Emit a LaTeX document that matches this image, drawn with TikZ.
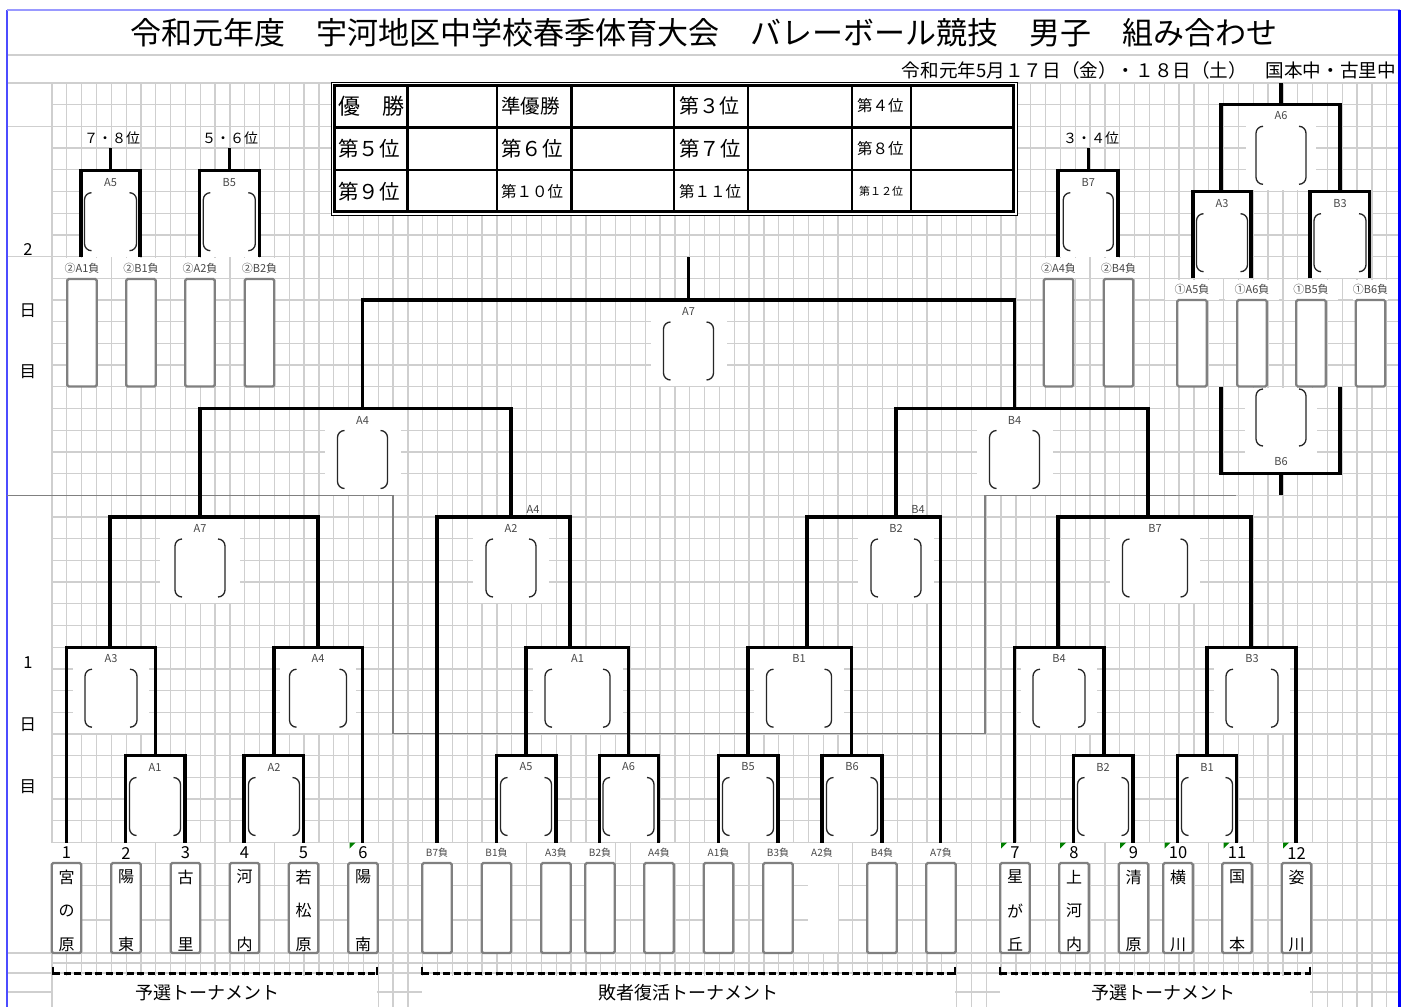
\documentclass[tikz,border=0pt]{standalone}
\usepackage{fontspec}
\setmainfont{Noto Sans CJK JP}
\newcommand\fs[1]{\fontsize{#1}{#1}\selectfont}
% match unit: name, cx, ytop, label, boxwidth, whitewidth
\newcommand\matchu[6]{%
  \fill[white] ({#2-#6/2},{#3+1.5}) rectangle ({#2+#6/2},{#3+86});
  \node[lab] (#1) at (#2,{#3+11.5}) {#4};
  \draw[mbox] ({#2-#5/2+7},{#3+22}) -- ({#2-#5/2},{#3+22}) -- ({#2-#5/2},{#3+80}) -- ({#2-#5/2+7},{#3+80});
  \draw[mbox] ({#2+#5/2-7},{#3+22}) -- ({#2+#5/2},{#3+22}) -- ({#2+#5/2},{#3+80}) -- ({#2+#5/2-7},{#3+80});
}
% green comment marker
\newcommand\gtri[1]{\fill[green!50!black] (#1,842.5) -- ({#1+6},842.5) -- (#1,848.5) -- cycle;}
\begin{document}
\begin{tikzpicture}[x=1pt,y=-1pt,
  gridl/.style={draw=black!19,line width=1.3pt},
  br/.style={draw=black,line width=3.2pt,line join=miter},
  mbox/.style={draw=black!85,line width=1.3pt,rounded corners=7pt},
  lab/.style={text=black!72,font=\fs{11},inner sep=0.5pt},
  labw/.style={lab,fill=white,minimum width=54pt,minimum height=20pt,inner sep=0pt},
  labm/.style={lab,font=\fs{10},fill=white,minimum width=38pt,minimum height=20pt,inner sep=0pt},
  tbox/.style={draw=black!50,line width=2.2pt,fill=white,rounded corners=1.5pt,inner sep=0pt,minimum width=29.5pt},
  tname/.style={font=\fs{16},inner sep=0pt},
  numl/.style={font=\fs{16.5},fill=white,minimum width=40pt,minimum height=20pt,inner sep=0pt},
  cell/.style={anchor=west,inner sep=0pt},
  rank/.style={font=\fs{14},inner sep=0pt},
  dayl/.style={font=\fs{16.5},inner sep=0pt},
  sep/.style={draw=black!50,line width=1.6pt},
  dashl/.style={draw=black,line width=2.2pt,dash pattern=on 7pt off 3.5pt},
  endl/.style={draw=black,line width=2.2pt},
  captxt/.style={font=\fs{18},inner sep=0pt}
]
\useasboundingbox (0,0) rectangle (1410,1007);
\fill[white] (0,0) rectangle (1410,1007);
% ---------------- grid
\foreach \k in {0,...,90} \draw[gridl] ({52+14.83*\k},83) -- ({52+14.83*\k},1007);
\foreach \j in {0,...,35} \draw[gridl] (52,{83+21.7*\j}) -- (1398,{83+21.7*\j});
\foreach \yy in {863.5,885.2,920,953,963,973,992} \draw[gridl] (52,\yy) -- (1398,\yy);
\foreach \yy in {83,126.4,256.6,953,973,992} \draw[gridl] (7,\yy) -- (52,\yy);
\draw[gridl] (7,55) -- (1398,55);
% ---------------- border
\draw[blue!70,line width=1.8pt] (7,10) -- (7,1007);
\draw[blue!40,line width=1.5pt] (7,10) -- (1399.5,10);
\draw[blue,line width=2.5pt] (1399.5,10) -- (1399.5,1007);
% ---------------- title
\node[font=\fs{31},inner sep=0pt] (title) at (703.5,33) {令和元年度　宇河地区中学校春季体育大会　バレーボール競技　男子　組み合わせ};
\node[font=\fs{18.6},anchor=east,inner sep=0pt] (date) at (1396,70) {令和元年5月１７日（金）・１８日（土）　国本中・古里中};
% ---------------- ranking table
\fill[white] (331,82) rectangle (1017,215);
\draw[line width=1pt] (331,82) rectangle (1017,215);
\draw[line width=2.8pt] (334.5,85.5) rectangle (1013.5,211.5);
\foreach \xx in {407.5,497,571.5,674,748,852,911} \draw[line width=2.4pt] (\xx,85.5) -- (\xx,211.5);
\foreach \yy in {127.5,170} \draw[line width=2.4pt] (334.5,\yy) -- (1013.5,\yy);
\node[cell,font=\fs{22}] (r1) at (338,106) {優　勝};
\node[cell,font=\fs{19.5}] (r2) at (501,106) {準優勝};
\node[cell,font=\fs{20}] (r3) at (679,106) {第３位};
\node[cell,font=\fs{15.5}] (r4) at (857,106) {第４位};
\node[cell,font=\fs{20.5}] (r5) at (338,149) {第５位};
\node[cell,font=\fs{20.5}] (r6) at (501,149) {第６位};
\node[cell,font=\fs{20.5}] (r7) at (679,149) {第７位};
\node[cell,font=\fs{15.5}] (r8) at (857,149) {第８位};
\node[cell,font=\fs{20.5}] (r9) at (338,191.5) {第９位};
\node[cell,font=\fs{15.5}] (r10) at (501,191.5) {第１０位};
\node[cell,font=\fs{15.5}] (r11) at (679,191.5) {第１１位};
\node[cell,font=\fs{11}] (r12) at (859,191.5) {第１２位};
% ---------------- day labels
\node[dayl] (d2a) at (28,250) {2};
\node[dayl] (d2b) at (28,311) {日};
\node[dayl] (d2c) at (28,372) {目};
\node[dayl] (d1a) at (28,663) {1};
\node[dayl] (d1b) at (28,725) {日};
\node[dayl] (d1c) at (28,787) {目};
% ---------------- match units
\matchu{mA5t}{110.5}{170.7}{A5}{52}{57}
\matchu{mB5t}{229.3}{170.7}{B5}{52}{57}
\matchu{mB7t}{1088.3}{170.7}{B7}{50}{57}
\matchu{mA6t}{1281}{104.3}{A6}{50}{70}
\matchu{mA3t}{1222}{191.7}{A3}{51}{55}
\matchu{mB3t}{1340}{191.7}{B3}{52}{56}
\matchu{mA7f}{688.5}{300}{A7}{50}{76}
\matchu{mA4s}{362.5}{408.5}{A4}{50}{76}
\matchu{mB4s}{1014.5}{408.5}{B4}{50}{76}
\matchu{mA7l}{200}{517}{A7}{50}{80}
\matchu{mA3l}{111}{647.2}{A3}{52}{76}
\matchu{mA4l}{318}{647.2}{A4}{57}{76}
\matchu{mA1l}{155}{755.5}{A1}{51}{56}
\matchu{mA2l}{274}{755.5}{A2}{51}{56}
\matchu{mA2c}{511}{517}{A2}{50}{76}
\matchu{mB2c}{896}{517}{B2}{50}{76}
\matchu{mA1c}{577.5}{647.2}{A1}{65}{90}
\matchu{mB1c}{799}{647.2}{B1}{65}{90}
\matchu{mA5c}{526}{755.5}{A5}{51}{56}
\matchu{mA6c}{628.5}{755.5}{A6}{51}{56}
\matchu{mB5c}{748}{755.5}{B5}{51}{56}
\matchu{mB6c}{852}{755.5}{B6}{51}{56}
\matchu{mB7r}{1155}{517}{B7}{65}{90}
\matchu{mB4r}{1059}{647.2}{B4}{52}{76}
\matchu{mB3r}{1252}{647.2}{B3}{52}{76}
\matchu{mB2r}{1103}{755.5}{B2}{51}{56}
\matchu{mB1r}{1207}{755.5}{B1}{51}{56}
% inverted B6
\fill[white] (1245,388) rectangle (1317,472);
\draw[mbox] (1263,389) -- (1256,389) -- (1256,446) -- (1263,446);
\draw[mbox] (1299,389) -- (1306,389) -- (1306,446) -- (1299,446);
\node[lab] (mB6t) at (1281,462) {B6};
\node[lab] (xA4) at (533,509.5) {A4};
\node[lab] (xB4) at (918,509.5) {B4};
% ---------------- separator between day 2 and day 1
\draw[sep] (7,495.3) -- (393,495.3) -- (393,733.6) -- (985,733.6) -- (985,495.3) -- (1236,495.3);
% ---------------- brackets: day 2
\draw[br] (110.5,148) -- (110.5,170.7);
\draw[br] (81,257) -- (81,170.7) -- (140,170.7) -- (140,257);
\draw[br] (229.3,148) -- (229.3,170.7);
\draw[br] (199.3,257) -- (199.3,170.7) -- (259.3,170.7) -- (259.3,257);
\draw[br] (1088.3,148) -- (1088.3,170.7);
\draw[br] (1058,257) -- (1058,170.7) -- (1118,170.7) -- (1118,257);
\draw[br] (1281,83) -- (1281,104.3);
\draw[br] (1221,191.7) -- (1221,104.3) -- (1340,104.3) -- (1340,191.7);
\draw[br] (1193,278.3) -- (1193,191.7) -- (1251,191.7) -- (1251,278.3);
\draw[br] (1310,278.3) -- (1310,191.7) -- (1369.3,191.7) -- (1369.3,278.3);
\draw[br] (1221,386.8) -- (1221,473.6) -- (1340,473.6) -- (1340,386.8);
\draw[br] (1281,473.6) -- (1281,495.3);
% final and semis
\draw[br] (688.5,257) -- (688.5,300);
\draw[br] (362.5,408.5) -- (362.5,300) -- (1014.5,300) -- (1014.5,408.5);
\draw[br] (200,517) -- (200,408.5) -- (511,408.5) -- (511,517);
\draw[br] (896,517) -- (896,408.5) -- (1148,408.5) -- (1148,517);
% left preliminary
\draw[br] (110,647.2) -- (110,517) -- (318,517) -- (318,647.2);
\draw[br] (66.5,842.5) -- (66.5,647.2) -- (155.5,647.2) -- (155.5,755.5);
\draw[br] (125.5,842.5) -- (125.5,755.5) -- (185,755.5) -- (185,842.5);
\draw[br] (274,755.5) -- (274,647.2) -- (362.5,647.2) -- (362.5,842.5);
\draw[br] (244,842.5) -- (244,755.5) -- (303.5,755.5) -- (303.5,842.5);
% consolation
\draw[br] (437,842.5) -- (437,517) -- (570,517) -- (570,647.2);
\draw[br] (526,755.5) -- (526,647.2) -- (628.5,647.2) -- (628.5,755.5);
\draw[br] (496.5,842.5) -- (496.5,755.5) -- (556,755.5) -- (556,842.5);
\draw[br] (599.5,842.5) -- (599.5,755.5) -- (658.5,755.5) -- (658.5,842.5);
\draw[br] (807,647.2) -- (807,517) -- (940.5,517) -- (940.5,842.5);
\draw[br] (748,755.5) -- (748,647.2) -- (851.5,647.2) -- (851.5,755.5);
\draw[br] (718.5,842.5) -- (718.5,755.5) -- (778,755.5) -- (778,842.5);
\draw[br] (822,842.5) -- (822,755.5) -- (882,755.5) -- (882,842.5);
% right preliminary
\draw[br] (1058,647.2) -- (1058,517) -- (1251,517) -- (1251,647.2);
\draw[br] (1014.5,842.5) -- (1014.5,647.2) -- (1104,647.2) -- (1104,755.5);
\draw[br] (1073.5,842.5) -- (1073.5,755.5) -- (1133,755.5) -- (1133,842.5);
\draw[br] (1207,755.5) -- (1207,647.2) -- (1296,647.2) -- (1296,842.5);
\draw[br] (1177.5,842.5) -- (1177.5,755.5) -- (1236.5,755.5) -- (1236.5,842.5);
% ---------------- rank labels day 2
\node[rank] (p78) at (112,138) {７・８位};
\node[rank] (p56) at (230,138) {５・６位};
\node[rank] (p34) at (1091,138) {３・４位};
\node[labw] (l1) at (82,268) {②A1負};
\node[labw] (l2) at (141,268) {②B1負};
\node[labw] (l3) at (200,268) {②A2負};
\node[labw] (l4) at (259.5,268) {②B2負};
\node[labw] (l5) at (1058.5,268) {②A4負};
\node[labw] (l6) at (1118.5,268) {②B4負};
\node[labw] (l7) at (1192,289.5) {①A5負};
\node[labw] (l8) at (1252,289.5) {①A6負};
\node[labw] (l9) at (1311,289.5) {①B5負};
\node[labw,minimum width=30pt] (l10) at (1370.5,289.5) {①B6負};
\node[tbox,minimum height=107.5pt] (b1) at (82,332.7) {};
\node[tbox,minimum height=107.5pt] (b2) at (141,332.7) {};
\node[tbox,minimum height=107.5pt] (b3) at (200,332.7) {};
\node[tbox,minimum height=107.5pt] (b4) at (259.5,332.7) {};
\node[tbox,minimum height=107.5pt] (b5) at (1058.5,332.7) {};
\node[tbox,minimum height=107.5pt] (b6) at (1118.5,332.7) {};
\node[tbox,minimum height=86.5pt] (b7) at (1192,343.2) {};
\node[tbox,minimum height=86.5pt] (b8) at (1252,343.2) {};
\node[tbox,minimum height=86.5pt] (b9) at (1311,343.2) {};
\node[tbox,minimum height=86.5pt] (b10) at (1370.5,343.2) {};
% ---------------- team number row
\node[numl] (n1) at (66.5,853) {1};
\node[numl] (n2) at (126,853) {2};
\node[numl] (n3) at (185.5,853) {3};
\node[numl] (n4) at (244.5,853) {4};
\node[numl] (n5) at (303.5,853) {5};
\node[numl] (n6) at (363,853) {6};
\node[numl] (n7) at (1015,853) {7};
\node[numl] (n8) at (1074,853) {8};
\node[numl] (n9) at (1133.5,853) {9};
\node[numl] (n10) at (1178,853) {10};
\node[numl] (n11) at (1237,853) {11};
\node[numl] (n12) at (1296.5,853) {12};
\node[labm] (c1) at (437,853) {B7負};
\node[labm] (c2) at (496.5,853) {B1負};
\node[labm] (c3) at (556,853) {A3負};
\node[labm,minimum width=30pt] (c4) at (600,853) {B2負};
\node[labm] (c5) at (659,853) {A4負};
\node[labm] (c6) at (718.5,853) {A1負};
\node[labm] (c7) at (778,853) {B3負};
\node[labm] (c8) at (822,853) {A2負};
\node[labm] (c9) at (882,853) {B4負};
\node[labm] (c10) at (941,853) {A7負};
\gtri{349.5}\gtri{1001}\gtri{1060}\gtri{1120}\gtri{1164.5}\gtri{1223.5}\gtri{1283}
% ---------------- team boxes
\foreach \nm/\xx in {t1/66.5,t2/126,t3/185.5,t4/244.5,t5/303.5,t6/363,
  u1/437,u2/496.5,u3/556,u4/600,u5/659,u6/718.5,u7/778,u9/882,u10/941,
  t7/1015,t8/1074,t9/1133.5,t10/1178,t11/1237,t12/1296.5}
  \node[tbox,minimum height=90pt] (\nm) at (\xx,908) {};
\fill[white] (808,864) rectangle (838,952);
% names
\node[tname] (a1) at (66.5,877) {宮};\node[tname] (a2) at (66.5,910.5) {の};\node[tname] (a3) at (66.5,944.5) {原};
\node[tname] (b1n) at (126,877) {陽};\node[tname] (b3n) at (126,944.5) {東};
\node[tname] (c1n) at (185.5,877) {古};\node[tname] (c3n) at (185.5,944.5) {里};
\node[tname] (d1n) at (244.5,877) {河};\node[tname] (d3n) at (244.5,944.5) {内};
\node[tname] (e1n) at (303.5,877) {若};\node[tname] (e2n) at (303.5,910.5) {松};\node[tname] (e3n) at (303.5,944.5) {原};
\node[tname] (f1n) at (363,877) {陽};\node[tname] (f3n) at (363,944.5) {南};
\node[tname] (g1n) at (1015,877) {星};\node[tname] (g2n) at (1015,910.5) {が};\node[tname] (g3n) at (1015,944.5) {丘};
\node[tname] (h1n) at (1074,877) {上};\node[tname] (h2n) at (1074,910.5) {河};\node[tname] (h3n) at (1074,944.5) {内};
\node[tname] (i1n) at (1133.5,877) {清};\node[tname] (i3n) at (1133.5,944.5) {原};
\node[tname] (j1n) at (1178,877) {横};\node[tname] (j3n) at (1178,944.5) {川};
\node[tname] (k1n) at (1237,877) {国};\node[tname] (k3n) at (1237,944.5) {本};
\node[tname] (l1n) at (1296.5,877) {姿};\node[tname] (l3n) at (1296.5,944.5) {川};
% ---------------- dashed brackets and captions
\fill[white] (53,975.5) rectangle (376.5,1007);
\fill[white] (422,975.5) rectangle (955,1007);
\fill[white] (1000,975.5) rectangle (1310,1007);
\draw[dashl] (53,973.5) -- (377,973.5);
\draw[endl] (53,966.5) -- (53,975); \draw[endl] (377,966.5) -- (377,975);
\draw[dashl] (422,973.5) -- (955,973.5);
\draw[endl] (422,966.5) -- (422,975); \draw[endl] (955,966.5) -- (955,975);
\draw[dashl] (1000,973.5) -- (1310,973.5);
\draw[endl] (1000,966.5) -- (1000,975); \draw[endl] (1310,966.5) -- (1310,975);
\node[captxt] (cap1) at (207,993) {予選トーナメント};
\node[captxt] (cap2) at (688,993) {敗者復活トーナメント};
\node[captxt] (cap3) at (1163,993) {予選トーナメント};
\end{tikzpicture}
\end{document}
